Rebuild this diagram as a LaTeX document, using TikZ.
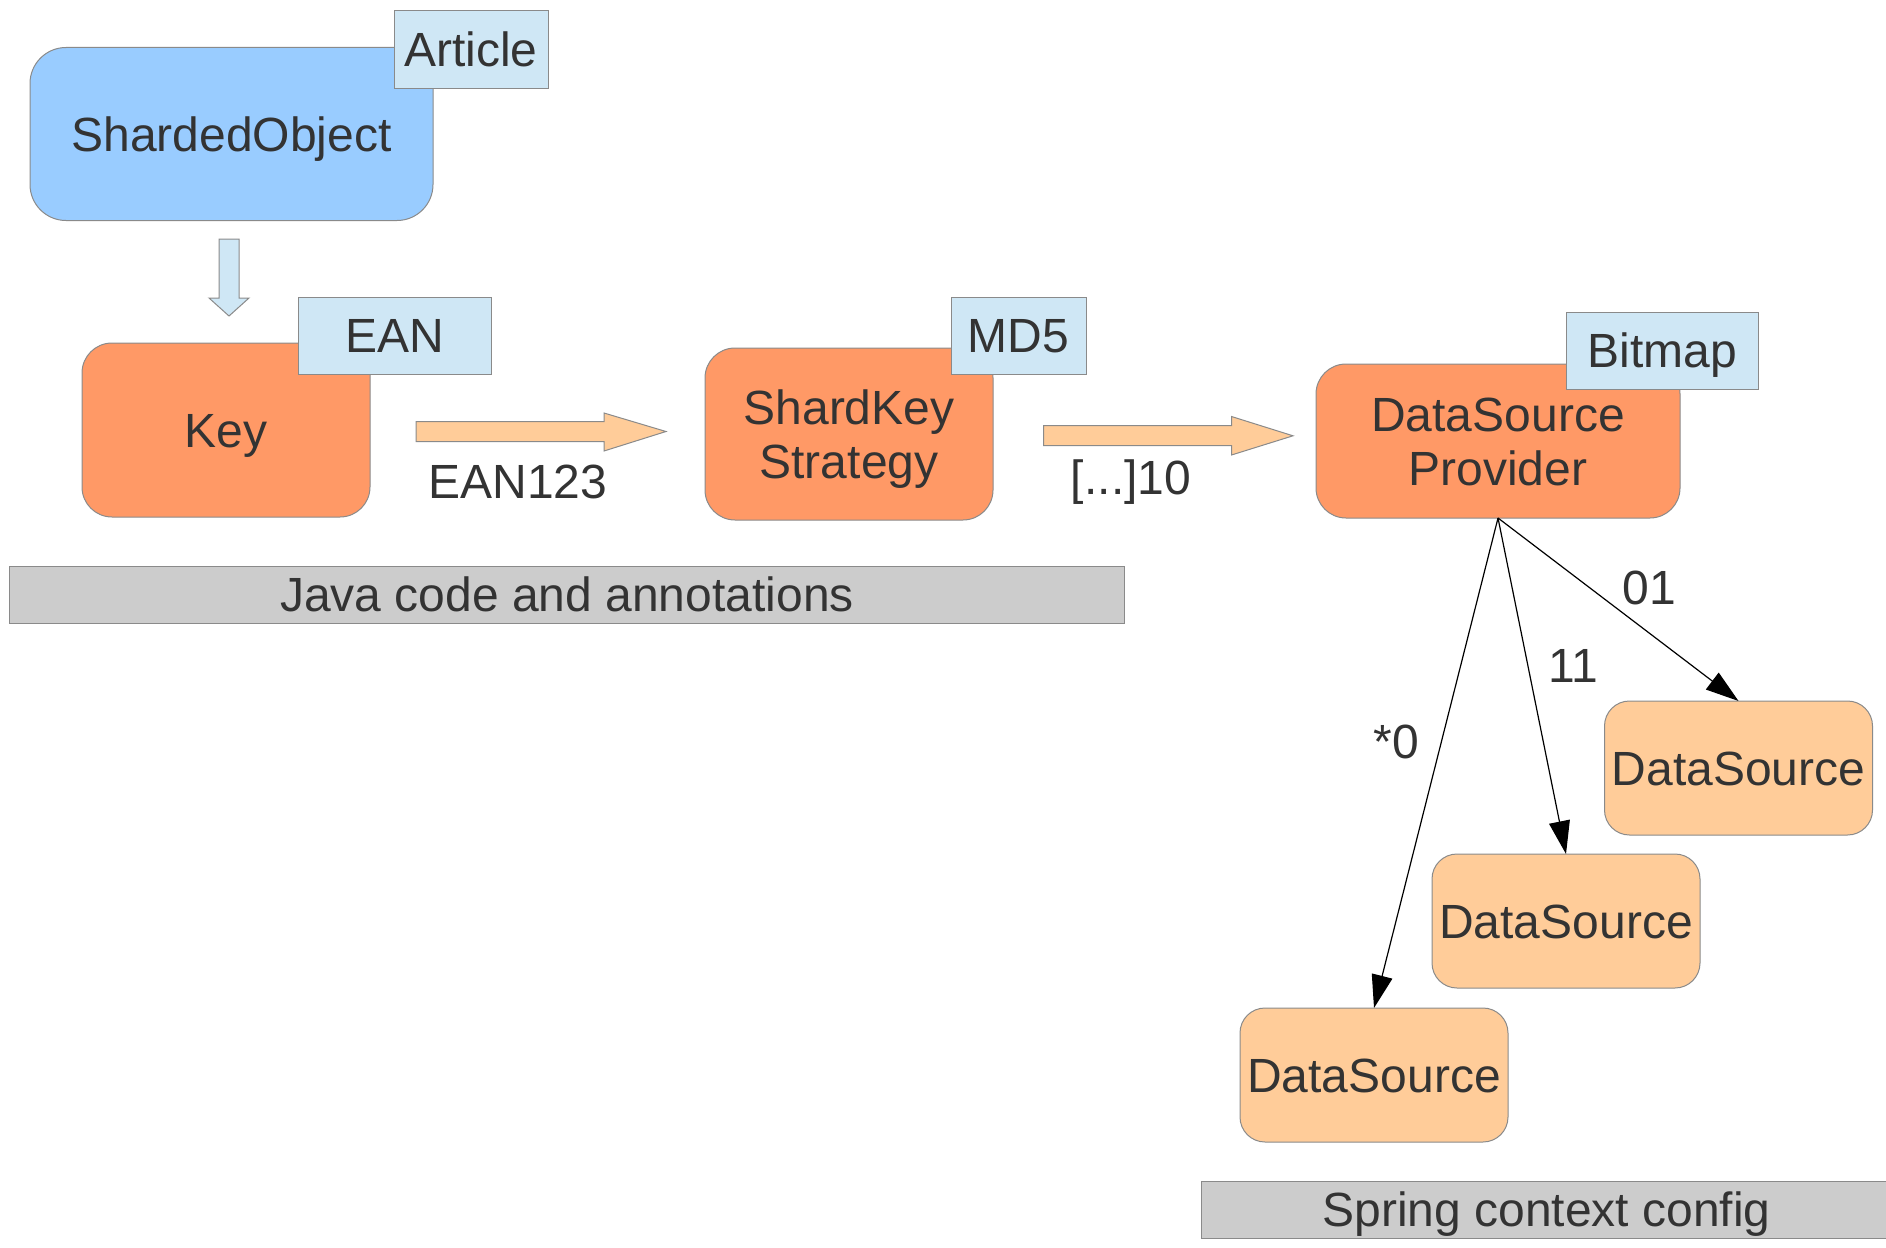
\documentclass[tikz,border=0pt]{standalone}
\usepackage{fontspec}
\setmainfont{Liberation Sans}
\usetikzlibrary{arrows.meta}
\definecolor{txt}{HTML}{333333}
\definecolor{skyfill}{HTML}{99CCFF}
\definecolor{tagfill}{HTML}{CFE7F5}
\definecolor{orangefill}{HTML}{FF9966}
\definecolor{peachfill}{HTML}{FFCC99}
\definecolor{barfill}{HTML}{CCCCCC}
\definecolor{edge}{HTML}{8A8A8A}
\tikzset{
  every node/.style={font=\fontsize{48}{54}\selectfont, text=txt, inner sep=0pt, outer sep=0pt},
  oneline/.style={text height=34.5pt, text depth=0pt},
  twolines/.style={align=center, text height=88.5pt, text depth=0pt},
  objbox/.style={draw=edge, line width=1pt, fill=skyfill, rounded corners=36pt, oneline},
  stepbox/.style={draw=edge, line width=1pt, fill=orangefill, rounded corners=30pt},
  dsbox/.style={draw=edge, line width=1pt, fill=peachfill, rounded corners=25pt, oneline,
                minimum width=268pt, minimum height=134pt},
  tagbox/.style={draw=edge, line width=1pt, fill=tagfill, oneline, minimum height=77pt},
  barbox/.style={draw=edge, line width=1pt, fill=barfill, oneline, minimum height=57pt},
  blockarrow/.style={draw=edge, line width=1pt, fill=peachfill},
  downarrow/.style={draw=edge, line width=1pt, fill=tagfill},
  link/.style={draw=black, line width=1.2pt, -{Triangle[length=33pt, width=21pt]}},
  linklabel/.style={oneline}
}
\begin{document}
\begin{tikzpicture}[x=1pt, y=-1pt]
\useasboundingbox (0,0) rectangle (1886,1247);

% Annotated object and the key derived from it
\node[objbox, minimum width=403pt, minimum height=173pt] (obj) at (231.5,134) {ShardedObject};
\node[tagbox, minimum width=154pt] (article) at (471,49.5) {Article};

\draw[downarrow] (219,239) -- (239,239) -- (239,298) -- (249,298) -- (229,316)
  -- (209,298) -- (219,298) -- cycle;

\node[stepbox, oneline, minimum width=288pt, minimum height=174pt] (key) at (226,430) {Key};
\node[tagbox, minimum width=193pt] (ean) at (394.5,335.5) {EAN};

% Key -> strategy
\draw[blockarrow] (416,421.5) -- (604,421.5) -- (604,413) -- (666,431.5) -- (604,451)
  -- (604,441.5) -- (416,441.5) -- cycle;
\node[linklabel] (keyval) at (518,481) {EAN123};

\node[stepbox, twolines, minimum width=288pt, minimum height=172pt] (strat) at (849,434) {ShardKey\\Strategy};
\node[tagbox, minimum width=135pt] (md5) at (1018.5,335.5) {MD5};

% Strategy -> provider
\draw[blockarrow] (1043.5,425.5) -- (1231.5,425.5) -- (1231.5,416.5) -- (1293,435.8) -- (1231.5,455)
  -- (1231.5,445.5) -- (1043.5,445.5) -- cycle;
\node[linklabel] (hashval) at (1131,477) {[...]10};

\node[stepbox, twolines, minimum width=364pt, minimum height=154pt] (prov) at (1498,441) {DataSource\\Provider};
\node[tagbox, minimum width=192pt] (bitmap) at (1662,350.5) {Bitmap};

% Layer captions
\node[barbox, minimum width=1115pt] (javabar) at (567,594.5) {Java code and annotations};
\node[barbox, minimum width=691pt] (springbar) at (1546.5,1209.5) {Spring context config};

% Data sources selected by the provider
\node[dsbox] (ds1) at (1738.5,768) {DataSource};
\node[dsbox] (ds2) at (1566,921) {DataSource};
\node[dsbox] (ds3) at (1374,1075) {DataSource};

\draw[link] (prov.south) -- (ds1.north);
\draw[link] (prov.south) -- (ds2.north);
\draw[link] (prov.south) -- (ds3.north);

\node[linklabel] (l01) at (1649,587.5) {01};
\node[linklabel] (l11) at (1573,665) {11};
\node[linklabel] (l0) at (1396,741.5) {*0};
\end{tikzpicture}
\end{document}
